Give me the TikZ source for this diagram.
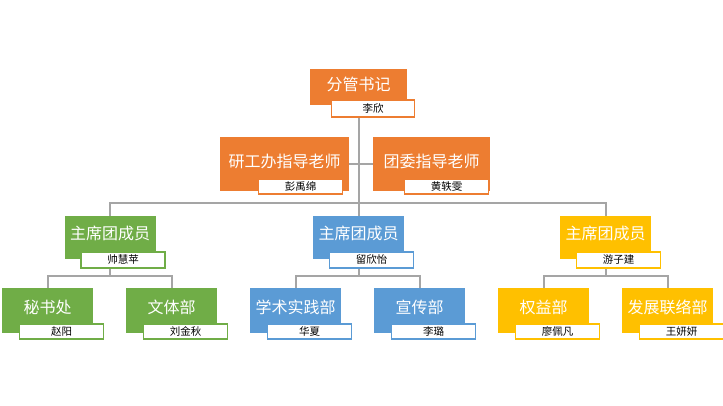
\documentclass[tikz,border=0pt]{standalone}
\usepackage{fontspec}
\newfontfamily\cjk{Noto Sans CJK SC}
\usetikzlibrary{positioning,backgrounds}
\definecolor{orgorange}{HTML}{ED7D31}
\definecolor{orggreen}{HTML}{70AD47}
\definecolor{orgblue}{HTML}{5B9BD5}
\definecolor{orgyellow}{HTML}{FFC000}
\definecolor{orggrey}{HTML}{A5A5A5}
\begin{document}
\begin{tikzpicture}[y ={(0 pt ,-1 pt )}, x ={( 1 pt , 0 pt )},
	post/.style = {fill=#1, text=white, inner sep=0pt, minimum width=91pt, minimum height=45pt,
		font=\cjk\fontsize{16}{16}\selectfont, text height=12pt, text depth=7pt},
	person/.style = {draw=#1, fill=white, line width=1.4pt, inner sep=0pt, minimum width=84pt,
		minimum height=15pt, font=\cjk\fontsize{10.5}{10.5}\selectfont},
	link/.style = {draw=orggrey, line width=2pt}]
			\useasboundingbox (0,0) rectangle (723,406);
			% top
			\node[post=orgorange, minimum width=97pt, minimum height=36pt, text depth=4pt] (sj) at (358.5,87) {分管书记};
			\node[person=orgorange, minimum width=83pt, minimum height=17pt, below right=-6pt and 21pt of sj.south west] (sj-n) {李欣};
			\node[post=orgorange, minimum width=129pt, minimum height=54pt, text depth=4pt] (yg) at (284.5,164) {研工办指导老师};
			\node[person=orgorange, below right=-13pt and 38pt of yg.south west] (yg-n) {彭禹绵};
			\node[post=orgorange, minimum width=117pt, minimum height=54pt, text depth=4pt] (tw) at (431.5,164) {团委指导老师};
			\node[person=orgorange, below right=-13pt and 31pt of tw.south west] (tw-n) {黄轶雯};
			% second row
			\node[post=orggreen, minimum height=43pt] (zx1) at (110,237.5) {主席团成员};
			\node[person=orggreen, minimum height=16pt, below right=-8pt and 16pt of zx1.south west] (zx1-n) {帅慧苹};
			\node[post=orgblue, minimum height=43pt] (zx2) at (358.5,237.5) {主席团成员};
			\node[person=orgblue, minimum height=16pt, below right=-8pt and 16pt of zx2.south west] (zx2-n) {留欣怡};
			\node[post=orgyellow, minimum height=43pt] (zx3) at (605.5,237.5) {主席团成员};
			\node[person=orgyellow, minimum height=16pt, below right=-8pt and 16pt of zx3.south west] (zx3-n) {游子建};
			% third row
			\node[post=orggreen] (msc) at (47.5,310.5) {秘书处};
			\node[person=orggreen, below right=-10pt and 17pt of msc.south west] (msc-n) {赵阳};
			\node[post=orggreen] (wt) at (171.5,310.5) {文体部};
			\node[person=orggreen, below right=-10pt and 17pt of wt.south west] (wt-n) {刘金秋};
			\node[post=orgblue] (xs) at (295.5,310.5) {学术实践部};
			\node[person=orgblue, below right=-10pt and 17pt of xs.south west] (xs-n) {华夏};
			\node[post=orgblue] (xc) at (419.5,310.5) {宣传部};
			\node[person=orgblue, below right=-10pt and 17pt of xc.south west] (xc-n) {李璐};
			\node[post=orgyellow] (qy) at (543.5,310.5) {权益部};
			\node[person=orgyellow, below right=-10pt and 17pt of qy.south west] (qy-n) {廖佩凡};
			\node[post=orgyellow] (fz) at (667.5,310.5) {发展联络部};
			\node[person=orgyellow, below right=-10pt and 17pt of fz.south west] (fz-n) {王妍妍};
			% connectors
			\coordinate (bus) at (358.5,203);
			\coordinate (b1) at (110,276);
			\coordinate (b2) at (358.5,276);
			\coordinate (b3) at (605.5,276);
			\begin{scope}[on background layer]
				\draw[link] (sj) -- (zx2);
				\draw[link] (yg) -- (tw);
				\draw[link] (zx1) |- (bus) -| (zx3);
				\draw[link] (zx1) -- (b1);
				\draw[link] (msc) |- (b1) -| (wt);
				\draw[link] (zx2) -- (b2);
				\draw[link] (xs) |- (b2) -| (xc);
				\draw[link] (zx3) -- (b3);
				\draw[link] (qy) |- (b3) -| (fz);
			\end{scope}
		\end{tikzpicture}
\end{document}
